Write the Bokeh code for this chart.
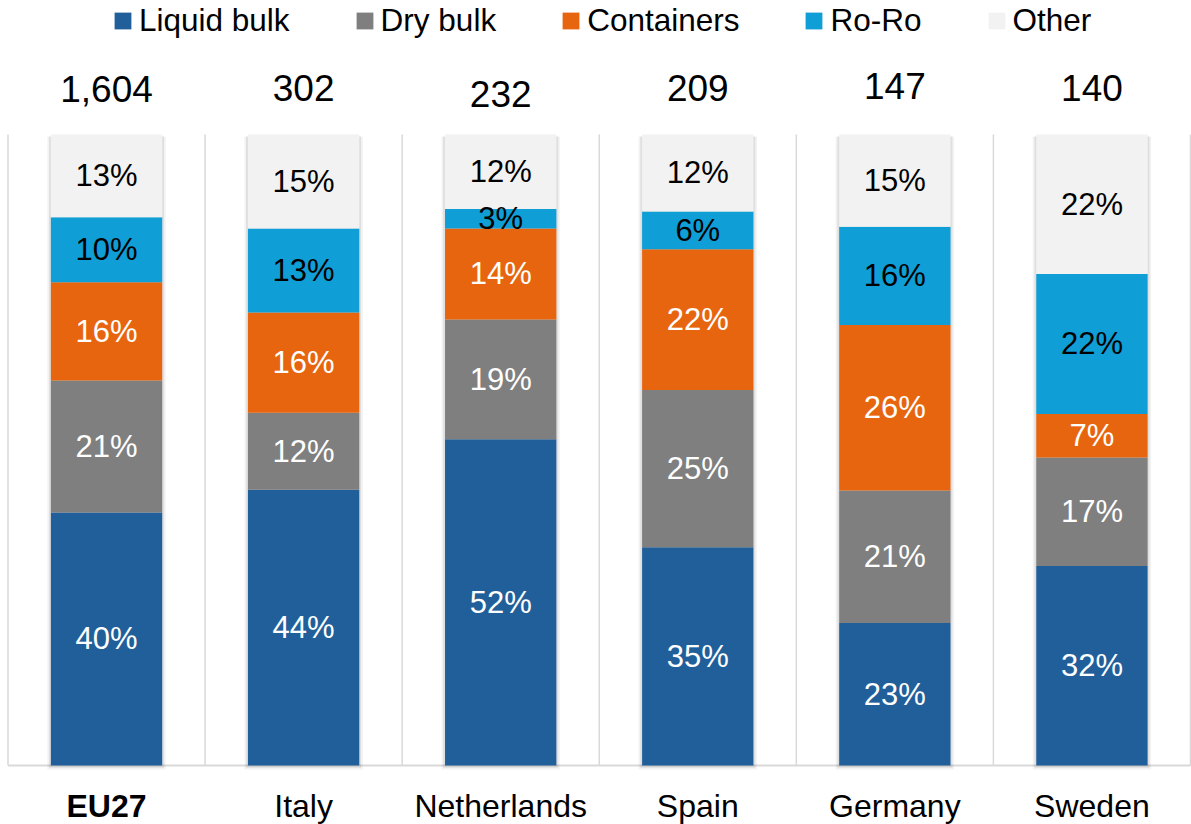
from bokeh.plotting import figure
from bokeh.models import ColumnDataSource, Range1d
from bokeh.core.properties import value
from bokeh.embed import file_html
from bokeh.resources import INLINE

# ---- data ----
countries = ["EU27", "Italy", "Netherlands", "Spain", "Germany", "Sweden"]
totals = ["1,604", "302", "232", "209", "147", "140"]
segments = ["Liquid bulk", "Dry bulk", "Containers", "Ro-Ro", "Other"]
liquid_bulk = [40.1, 43.7, 51.7, 34.6, 22.6, 31.6]
dry_bulk = [20.9, 12.2, 19.0, 24.9, 21.0, 17.2]
containers = [15.6, 15.9, 14.4, 22.3, 26.2, 6.9]
ro_ro = [10.3, 13.3, 3.1, 6.0, 15.6, 22.2]
other = [13.1, 14.9, 11.8, 12.2, 14.6, 22.1]

# ---- styling ----
series = [liquid_bulk, dry_bulk, containers, ro_ro, other]
colors = ["#215F9A", "#7F7F7F", "#E8650F", "#0F9ED5", "#F2F2F2"]
label_colors = ["white", "white", "white", "black", "black"]
FONT = "Liberation Sans"
total_offsets = [-46, -47, -41, -47, -49, -47]

n = len(countries)
W, H = 1191, 824
px_x = 197.08
X0 = -7.5 / px_x
X1 = X0 + W / px_x
px_y = 6.31
Y1 = 100 + 134 / px_y
Y0 = -(H - 765) / px_y

p = figure(width=W, height=H, x_range=Range1d(X0, X1), y_range=Range1d(Y0, Y1),
           output_backend="svg", toolbar_location=None, min_border=0,
           x_axis_location=None, y_axis_location=None, outline_line_color=None,
           background_fill_color="white", border_fill_color="white")
p.grid.visible = False

xs = [i + 0.5 for i in range(n)]
data = dict(x=xs)
for name, vals in zip(segments, series):
    data[name] = vals
src = ColumnDataSource(data)

# separators and base line
edges = list(range(n + 1))
p.segment(x0=edges, y0=[0] * len(edges), x1=edges, y1=[100] * len(edges),
          line_color="#D9D9D9", line_width=1.5)
p.segment(x0=[edges[0]], y0=[0], x1=[edges[-1]], y1=[0],
          line_color="#D9D9D9", line_width=2)

# soft shadow
bar_w = 0.565
for grow, alpha in [(3.5, 0.05), (1.8, 0.08)]:
    p.vbar(x=xs, width=bar_w + 2 * grow / px_x, top=100 - 2 / px_y,
           bottom=-(grow + 0.5) / px_y, color="black", alpha=alpha, line_color=None)

p.vbar_stack(segments, x="x", width=bar_w, color=colors, line_color=None,
             source=src, legend_label=segments)

# percent labels
lx, ly, lt, lc = [], [], [], []
bottoms = [0.0] * n
for vals, tc in zip(series, label_colors):
    for i, v in enumerate(vals):
        lx.append(xs[i])
        ly.append(bottoms[i] + v / 2)
        lt.append(f"{int(v + 0.5)}%")
        lc.append(tc)
        bottoms[i] += v
p.text(x=lx, y=ly, text=lt, text_color=lc, text_font=value(FONT),
       text_font_size=value("31px"), text_align="center", text_baseline="middle")

# totals
p.text(x=xs, y=[100] * n, text=totals, y_offset=total_offsets, text_color="black",
       text_font=value(FONT), text_font_size=value("37px"),
       text_align="center", text_baseline="middle")

# category labels
p.text(x=xs, y=[0] * n, text=countries, y_offset=[40] * n, text_color="black",
       text_font=value(FONT), text_font_size=value("32px"),
       text_font_style=["bold"] + ["normal"] * (n - 1),
       text_align="center", text_baseline="middle")

leg = p.legend[0]
leg.orientation = "horizontal"
leg.location = (112, 785)
leg.padding = 0
leg.margin = 0
leg.spacing = 64
leg.glyph_width = 21
leg.glyph_height = 21
leg.label_standoff = 6
leg.label_text_font = FONT
leg.label_text_font_size = "31.5px"
leg.label_text_color = "black"
leg.border_line_color = None
leg.background_fill_alpha = 0

open("out.html", "w").write(file_html(p, INLINE))
